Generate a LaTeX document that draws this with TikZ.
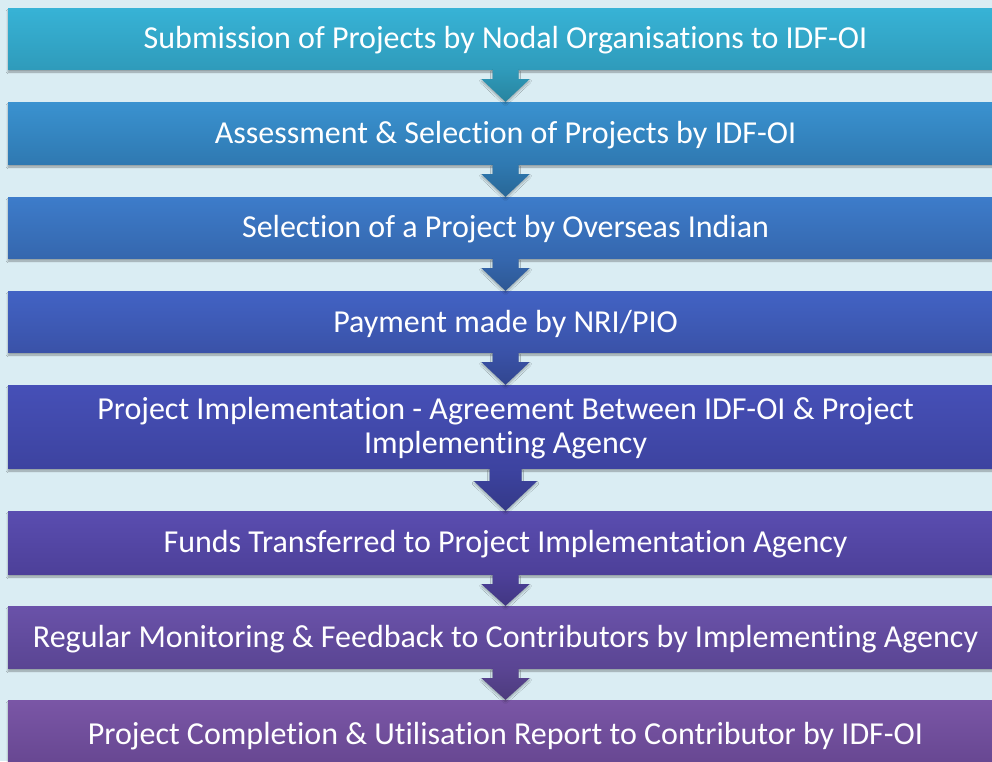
\documentclass[tikz,border=0pt]{standalone}
\usepackage{fontspec}
\setmainfont{Carlito}[Ligatures={NoCommon,NoRare}]
\usetikzlibrary{calc,shadows.blur}
\definecolor{bg}{HTML}{DAEDF3}
\definecolor{aT}{HTML}{37B3D6}\definecolor{aB}{HTML}{2F9BBB}
\definecolor{bT}{HTML}{3A92D0}\definecolor{bB}{HTML}{2F79B1}
\definecolor{cT}{HTML}{3D7CCA}\definecolor{cB}{HTML}{3567AE}
\definecolor{dT}{HTML}{4263C4}\definecolor{dB}{HTML}{3A52A8}
\definecolor{eT}{HTML}{4650B7}\definecolor{eB}{HTML}{3D43A0}
\definecolor{fT}{HTML}{5A4DB0}\definecolor{fB}{HTML}{4D4099}
\definecolor{gT}{HTML}{6A52A9}\definecolor{gB}{HTML}{5A4593}
\definecolor{hT}{HTML}{7A56A6}\definecolor{hB}{HTML}{664690}
\tikzset{
  x=1pt,y=-1pt,
  stepbox/.style={rectangle, minimum width=995pt, inner sep=0pt,
    blur shadow={shadow xshift=0pt, shadow yshift=-3pt, shadow blur steps=6, shadow opacity=35}},
  steptext/.style={align=center, text=white, inner sep=0pt, yshift=-2pt,
    font=\fontsize{32}{34}\selectfont},
  blockarrow/.style={blur shadow={shadow xshift=0pt, shadow yshift=-2pt, shadow blur steps=5, shadow opacity=30}}
}
\newcommand{\boxat}[6]{% name, top, bottom, topcolor, bottomcolor, text
  \node[stepbox, minimum height={#3-#2}, top color=#4, bottom color=#5,
        label={[steptext]center:{#6}}] (#1) at (505.5,{(#2+#3)/2}) {};}
\newcommand{\arrowfrom}[7]{% from, to, shaft half width, head half width, shaft length, topcolor, bottomcolor
  \path[blockarrow, top color=#6, bottom color=#7]
    ($(#1.south)+(-#3,0)$) -- ($(#1.south)+(#3,0)$) -- ($(#1.south)+(#3,#5)$) -- ($(#1.south)+(#4,#5)$)
    -- (#2.north) -- ($(#1.south)+(-#4,#5)$) -- ($(#1.south)+(-#3,#5)$) -- cycle;}
\begin{document}
\begin{tikzpicture}
\fill[bg] (0,0) rectangle (992,761);
\useasboundingbox (0,0) rectangle (992,761);
\begin{scope}
\clip (0,0) rectangle (992,761);
\boxat{b1}{8}{69}{aT}{aB}{Submission of Projects by Nodal Organisations to IDF-OI}
\boxat{b2}{102}{164}{bT}{bB}{Assessment \& Selection of Projects by IDF-OI}
\boxat{b3}{197}{258}{cT}{cB}{Selection of a Project by Overseas Indian}
\boxat{b4}{291}{352}{dT}{dB}{Payment made by NRI/PIO}
\boxat{b5}{385}{468}{eT}{eB}{Project Implementation - Agreement Between IDF-OI \& Project\\Implementing Agency}
\boxat{b6}{511}{574}{fT}{fB}{Funds Transferred to Project Implementation Agency}
\boxat{b7}{606}{668}{gT}{gB}{Regular Monitoring \& Feedback to Contributors by Implementing Agency}
\boxat{b8}{700}{768}{hT}{hB}{\raisebox{3.5pt}{Project Completion \& Utilisation Report to Contributor by IDF-OI}}
\arrowfrom{b1}{b2}{13}{24}{10}{aB}{aB!85!black}
\arrowfrom{b2}{b3}{13}{24}{10}{bB}{bB!85!black}
\arrowfrom{b3}{b4}{13}{24}{10}{cB}{cB!85!black}
\arrowfrom{b4}{b5}{13}{24}{10}{dB}{dB!85!black}
\arrowfrom{b5}{b6}{16}{31.5}{13}{eB}{eB!85!black}
\arrowfrom{b6}{b7}{13}{24}{10}{fB}{fB!85!black}
\arrowfrom{b7}{b8}{13}{24}{10}{gB}{gB!85!black}
\end{scope}
\end{tikzpicture}
\end{document}
